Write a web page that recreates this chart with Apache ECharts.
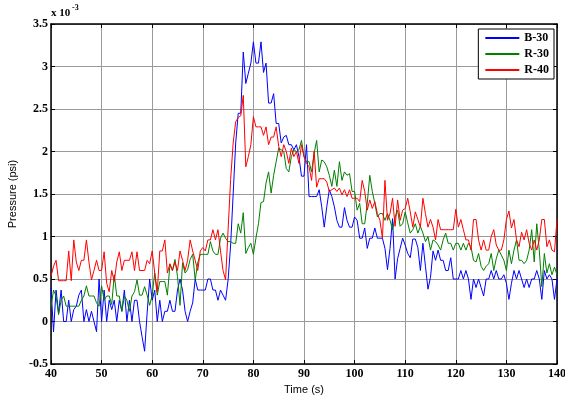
<!DOCTYPE html>
<html>
<head>
<meta charset="utf-8">
<script src="https://cdn.jsdelivr.net/npm/echarts@6/dist/echarts.min.js"></script>
<style>
html,body{margin:0;padding:0;background:#fff;}
#chart{width:565px;height:396px;}
</style>
</head>
<body>
<div id="chart"></div>
<script>
// Sampling: every 0.5 s from 40 s to 140 s
var tStart = 40, tStep = 0.5;
var xTicks = [40, 50, 60, 70, 80, 90, 100, 110, 120, 130, 140];
var yTicks = [-0.5, 0, 0.5, 1, 1.5, 2, 2.5, 3, 3.5];
var seriesNames = ['B-30', 'R-30', 'R-40'];

// Pressure (psi, x 10^-3)
var b30 = [
 0.40,-0.12,0.37,0.1,0.37,0.0,0.0,0.25,0.0,0.14,
 0.18,0.31,0.37,0.0,0.14,0.0,0.12,0.0,-0.12,0.5,
 0.0,0.37,0.0,0.25,0.14,0.25,0.0,0.25,0.12,0.37,
 0.0,0.25,0.0,0.25,0.25,0.0,-0.18,-0.35,0.1,0.5,
 0.25,0.37,0.0,0.25,0.0,0.12,0.12,0.25,0.12,0.12,
 0.37,0.5,0.37,0.12,0.0,0.12,0.22,0.5,0.37,0.37,
 0.37,0.37,0.5,0.5,0.37,0.37,0.25,0.37,0.31,0.25,
 0.49,0.9,1.5,2.1,2.45,2.45,3.17,2.8,2.92,3.04,
 3.29,3.04,3.04,3.29,2.93,3.04,2.57,2.57,2.68,2.33,
 2.33,2.1,2.17,2.19,2.08,2.08,2.02,2.08,1.94,1.71,
 1.71,2.08,1.47,1.47,1.47,1.47,1.55,1.35,1.11,1.35,
 1.55,1.47,1.35,1.19,1.11,1.11,1.34,1.19,1.11,1.11,
 1.23,1.19,0.98,0.98,1.1,0.86,0.98,0.98,1.1,0.98,
 0.98,0.98,0.86,0.61,0.86,1.21,0.5,0.74,0.86,0.98,
 0.9,0.8,0.75,0.97,0.97,0.87,0.6,0.92,0.65,0.38,
 0.52,0.83,0.72,0.84,0.72,0.72,0.6,0.6,0.75,0.5,
 0.5,0.5,0.6,0.5,0.6,0.5,0.26,0.5,0.4,0.5,
 0.4,0.3,0.5,0.5,0.6,0.5,0.6,0.5,0.5,0.55,
 0.45,0.26,0.45,0.6,0.5,0.6,0.5,0.4,0.5,0.4,
 0.5,0.5,0.6,0.5,0.26,0.6,0.5,0.55,0.5,0.26,
 0.5
];
var r30 = [
 0.17,0.37,0.3,0.08,0.25,0.3,0.18,0.18,0.18,0.18,
 0.18,0.18,0.25,0.3,0.42,0.3,0.3,0.3,0.22,0.18,
 0.42,0.25,0.3,0.3,0.2,0.55,0.3,0.3,0.12,0.3,
 0.25,0.12,0.3,0.35,0.49,0.31,0.31,0.41,0.31,0.19,
 0.31,0.57,0.31,0.47,0.47,0.47,0.31,0.67,0.6,0.73,
 0.53,0.19,0.69,0.57,0.61,0.73,0.79,0.49,0.69,0.79,
 0.79,0.79,0.79,0.94,0.83,0.79,0.79,0.98,1.04,0.98,
 0.94,0.94,0.92,0.92,1.15,1.04,1.28,0.8,0.87,0.92,
 0.79,0.98,1.15,1.4,1.41,1.63,1.76,1.51,1.72,1.88,
 2.04,2.02,2.0,1.8,1.76,1.94,2.02,2.0,2.02,2.13,
 1.94,1.88,1.88,1.76,1.98,2.13,1.76,1.9,1.88,1.82,
 1.72,1.59,1.78,1.59,1.88,1.66,1.76,1.72,1.74,1.53,
 1.53,1.31,1.39,1.15,1.15,1.39,1.72,1.53,1.39,1.23,
 1.27,1.27,1.19,1.27,1.19,1.08,1.23,1.31,1.12,1.15,
 1.29,1.16,1.04,1.08,1.15,1.04,1.12,1.04,0.94,1.0,
 0.84,0.96,0.94,0.9,0.84,0.96,1.04,0.92,0.92,0.84,
 0.92,0.92,0.84,0.92,0.84,0.92,0.88,0.72,0.7,0.8,
 0.65,0.6,0.65,0.68,0.8,0.6,0.74,0.84,0.78,0.72,
 0.6,0.84,0.68,0.84,0.96,0.72,0.72,0.68,0.72,0.84,
 1.08,0.7,1.15,0.84,0.41,0.8,0.57,0.68,0.55,0.64,
 0.55
];
var r40 = [
 0.53,0.65,0.72,0.48,0.48,0.48,0.48,0.83,0.48,0.96,
 0.7,0.6,0.72,0.72,0.96,0.7,0.49,0.6,0.72,0.6,
 0.6,0.82,0.45,0.35,0.6,0.47,0.7,0.82,0.6,0.72,
 0.72,0.72,0.82,0.6,0.82,0.6,0.6,0.6,0.72,0.68,
 0.83,0.57,0.35,0.83,0.83,0.96,0.57,0.68,0.6,0.7,
 0.6,0.83,0.72,0.6,0.72,0.96,0.83,0.72,0.6,0.83,
 0.87,0.83,0.96,0.96,1.08,0.96,1.08,0.83,0.6,0.49,
 1.08,1.67,2.1,2.35,2.4,2.42,2.66,1.82,1.94,2.08,
 2.41,2.29,2.29,2.29,2.19,2.29,2.08,2.17,2.17,2.29,
 2.06,1.94,2.08,2.0,1.86,2.04,1.94,2.0,1.86,2.08,
 1.94,1.86,1.82,1.66,2.0,1.58,1.68,1.68,1.68,1.64,
 1.53,1.55,1.57,1.53,1.57,1.49,1.55,1.47,1.55,1.45,
 1.45,1.45,1.41,1.66,1.53,1.31,1.43,1.33,1.41,1.27,
 1.19,0.98,1.66,1.19,1.27,1.45,1.12,1.43,1.19,1.31,
 1.33,1.45,1.29,1.11,1.29,1.2,1.11,1.45,1.27,1.11,
 1.2,1.11,0.96,1.2,1.08,1.08,1.08,1.08,1.08,1.08,
 1.32,1.11,1.2,1.08,0.96,0.96,0.84,1.2,1.2,0.96,
 0.84,0.96,0.84,0.84,1.0,1.08,0.9,0.84,0.84,0.96,
 1.2,1.3,1.1,1.2,0.96,0.88,1.05,0.96,1.08,0.92,
 0.84,0.96,0.84,0.96,1.2,1.2,0.88,0.96,0.84,0.82,
 1.2
];

function pairs(arr){
  var out = [];
  for (var i = 0; i < arr.length; i++) out.push([tStart + i * tStep, arr[i]]);
  return out;
}

var serif = 'Liberation Serif';
var sans = 'Liberation Sans';
var tickLabel = {color:'#000', fontFamily:serif, fontWeight:'bold', fontSize:12};
var gridColor = '#9a9a9a';

var chart = echarts.init(document.getElementById('chart'), null, {renderer:'canvas'});
chart.setOption({
  animation:false,
  backgroundColor:'#fff',
  grid:{left:51, right:8, top:24, bottom:32, containLabel:false, outerBoundsMode:'none'},
  legend:{
    data:seriesNames, orient:'vertical', right:11, top:29,
    backgroundColor:'#fff', borderColor:'#000', borderWidth:1,
    padding:[3,5,3,6], itemWidth:34, itemHeight:13, itemGap:4,
    itemStyle:{opacity:0},
    textStyle:{color:'#000', fontFamily:serif, fontWeight:'bold', fontSize:12}
  },
  graphic:[
    {type:'text', left:51, top:8, style:{text:'x 10', fill:'#000', font:'bold 11px "Liberation Serif"'}},
    {type:'text', left:72, top:4, style:{text:'-3', fill:'#000', font:'bold 8px "Liberation Serif"'}}
  ],
  xAxis:[
    {type:'value', min:xTicks[0], max:xTicks[xTicks.length-1], interval:xTicks[1]-xTicks[0], position:'bottom',
     axisLine:{onZero:false, lineStyle:{color:'#000', width:1.5}},
     axisTick:{inside:true, length:4, lineStyle:{color:'#000'}},
     axisLabel:Object.assign({margin:4}, tickLabel),
     splitLine:{show:true, lineStyle:{color:gridColor, width:1}},
     name:'Time (s)', nameLocation:'middle', nameGap:18,
     nameTextStyle:{fontFamily:sans, fontSize:11, color:'#000'}},
    {type:'value', min:xTicks[0], max:xTicks[xTicks.length-1], interval:xTicks[1]-xTicks[0], position:'top',
     axisLine:{show:true, onZero:false, lineStyle:{color:'#000', width:1.5}},
     axisTick:{show:true, inside:true, length:4, lineStyle:{color:'#000'}},
     axisLabel:{show:false}, splitLine:{show:false}}
  ],
  yAxis:[
    {type:'value', min:yTicks[0], max:yTicks[yTicks.length-1], interval:yTicks[1]-yTicks[0], position:'left',
     axisLine:{show:true, onZero:false, lineStyle:{color:'#000', width:1.5}},
     axisTick:{show:true, inside:true, length:4, lineStyle:{color:'#000'}},
     axisLabel:Object.assign({margin:3}, tickLabel),
     splitLine:{show:true, lineStyle:{color:gridColor, width:1}},
     name:'Pressure (psi)', nameLocation:'middle', nameGap:25,
     nameTextStyle:{fontFamily:sans, fontSize:11, color:'#000'}},
    {type:'value', min:yTicks[0], max:yTicks[yTicks.length-1], interval:yTicks[1]-yTicks[0], position:'right',
     axisLine:{show:true, onZero:false, lineStyle:{color:'#000', width:1.5}},
     axisTick:{show:true, inside:true, length:4, lineStyle:{color:'#000'}},
     axisLabel:{show:false}, splitLine:{show:false}}
  ],
  series:[
    {name:seriesNames[0], type:'line', data:pairs(b30), symbol:'none', color:'#0000ff', lineStyle:{width:1, color:'#0000ff'}},
    {name:seriesNames[1], type:'line', data:pairs(r30), symbol:'none', color:'#008000', lineStyle:{width:1, color:'#008000'}},
    {name:seriesNames[2], type:'line', data:pairs(r40), symbol:'none', color:'#ff0000', lineStyle:{width:1, color:'#ff0000'}}
  ]
});
</script>
</body>
</html>
